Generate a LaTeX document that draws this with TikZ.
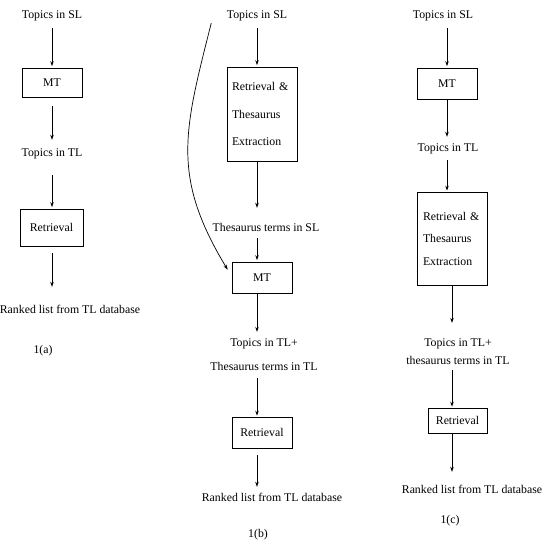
\documentclass[tikz,border=0pt]{standalone}
\usepackage{fontspec}
\setmainfont{Liberation Serif}
\usetikzlibrary{arrows.meta}
\newcommand*{\FlowArrows}[2]{% #1 = axis, #2 = list of from/to/gap/gap
\foreach \a/\b/\s/\e in {#2} {
\draw [flow, shorten <=\s, shorten >=\e]
(\a.south -| #1) -- (\b.north -| #1);
}%
}

\begin{document}
\begin{tikzpicture}[x=1pt, y=-1pt,
    font=\fontsize{11.8}{14}\selectfont,
    txt/.style={inner sep=0pt, text height=8.5pt, text depth=2.5pt},
    box/.style={draw, line width=0.7pt, inner sep=0pt},
    flow/.style={line width=0.7pt, -{Stealth[length=5pt, width=3.5pt]}}]

    \useasboundingbox (0,0) rectangle (544,542);

    % column (a)
    \coordinate (axa) at (52,0);
    \node [txt] (tsla) at (52,15) {Topics in SL};
    \node [box, minimum width=60pt, minimum height=29pt] (mta) at (52,82.5) {MT};
    \node [txt] (ttla) at (52,153) {Topics in TL};
    \node [box, minimum width=63pt, minimum height=37pt] (reta) at (51.5,227.5) {Retrieval};
    \node [txt] (rka) at (70,310) {Ranked list from TL database};
    \node [txt] (la) at (43,350) {1(a)};
    \FlowArrows{axa}{
    tsla/mta/7.5pt/1.5pt, mta/ttla/9pt/7.5pt,
    ttla/reta/16.5pt/1.5pt, reta/rka/7pt/17.5pt}

    % column (b)
    \coordinate (axb) at (257,0);
    \node [txt] (tslb) at (257,15) {Topics in SL};
    \node [box, align=left, text width=60pt, inner xsep=5pt, minimum height=94pt,
        font=\fontsize{11.8}{27.5}\selectfont] (rteb) at (262,114)
        {Retrieval \&\\Thesaurus\\Extraction};
    \node [txt] (tsrb) at (266,228) {Thesaurus terms in SL};
    \node [box, minimum width=60pt, minimum height=31pt] (mtb) at (262,277.5) {MT};
    \node [inner sep=0pt, align=center, font=\fontsize{11.8}{24}\selectfont]
        (ttlb) at (264,355) {Topics in TL+\\Thesaurus terms in TL};
    \node [box, minimum width=60pt, minimum height=31pt] (retb) at (262,432.5) {Retrieval};
    \node [txt] (rkb) at (272,498) {Ranked list from TL database};
    \node [txt] (lb) at (258,534) {1(b)};
    \FlowArrows{axb}{
    tslb/rteb/7.5pt/1.5pt, rteb/tsrb/0pt/14.5pt, tsrb/mtb/4.5pt/1.5pt,
    mtb/ttlb/0pt/7pt, ttlb/retb/7pt/1pt, retb/rkb/7pt/5.5pt}
    \draw [flow] ([xshift=-15.5pt, yshift=-2.5pt]tslb.south west)
        .. controls (184,131) and (171,176) ..
        ([xshift=-4pt, yshift=-8pt]mtb.north west);

    % column (c)
    \coordinate (axc) at (447,0);
    \coordinate (axd) at (452,0);
    \node [txt] (tslc) at (443,15) {Topics in SL};
    \node [box, minimum width=60pt, minimum height=31pt] (mtc) at (447,83.5) {MT};
    \node [txt] (ttlc) at (448,148) {Topics in TL};
    \node [box, align=left, text width=58pt, inner xsep=6pt, minimum height=93pt,
        font=\fontsize{11.8}{22.5}\selectfont] (rtec) at (452,238.5)
        {Retrieval \&\\Thesaurus\\Extraction};
    \node [inner sep=0pt, align=center, font=\fontsize{11.8}{18}\selectfont]
        (ttpc) at (458,352) {Topics in TL+\\thesaurus terms in TL};
    \node [box, minimum width=59pt, minimum height=25pt] (retc) at (457.5,420.5) {Retrieval};
    \node [txt] (rkc) at (472,490) {Ranked list from TL database};
    \node [txt] (lc) at (450,520) {1(c)};
    \FlowArrows{axc}{
    tslc/mtc/7.5pt/1.5pt, mtc/ttlc/1pt/5.5pt, ttlc/rtec/6.5pt/1pt}
    \FlowArrows{axd}{
    rtec/ttpc/0pt/16pt, ttpc/retc/5pt/1pt, retc/rkc/0pt/12.5pt}

\end{tikzpicture}
\end{document}
